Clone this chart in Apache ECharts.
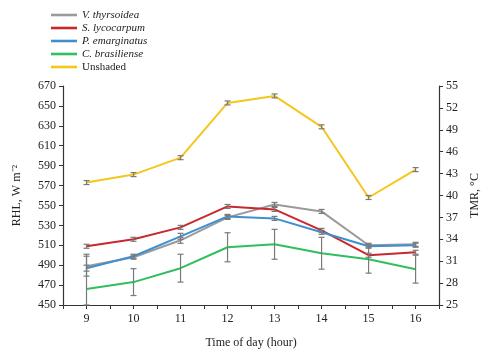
<!DOCTYPE html>
<html><head><meta charset="utf-8">
<script src="https://cdn.jsdelivr.net/npm/echarts@6/dist/echarts.min.js"></script>
<style>html,body{margin:0;padding:0;background:#fff}#c{width:489px;height:354px}</style>
</head><body><div id="c"></div>
<script>
var hours = [9, 10, 11, 12, 13, 14, 15, 16];
var seriesNames = ['V. thyrsoidea', 'S. lycocarpum', 'P. emarginatus', 'C. brasiliense', 'Unshaded'];
var vThyrsoidea = [489, 498, 515, 538, 551, 544, 510, 511];
var vThyrsoideaErr = [10, 2, 3, 2, 2, 2, 2, 2];
var sLycocarpum = [509, 516, 528, 549, 546, 525, 500, 503];
var sLycocarpumErr = [2, 2, 2, 2, 2, 2, 2, 2];
var pEmarginatus = [487, 499, 519, 539, 537, 523, 509, 510];
var pEmarginatusErr = [3, 2, 3, 2, 2, 2, 2, 2];
var cBrasiliense = [466, 473, 487, 508, 511, 502, 496, 486];
var cBrasilienseErr = [35, 13.5, 14, 14.6, 15, 16, 14, 14];
var unshaded = [573, 581, 598, 653, 660, 629, 558, 586];
var unshadedErr = [2, 2, 2, 2, 2, 2, 2, 2];
var leftTicks = {min: 450, max: 670, step: 20};
var rightTicks = {min: 25, max: 55, step: 3};

var colors = ['#9a9a9a', '#c8282e', '#3f8fd0', '#2fbf5e', '#f5c61c'];
var vals = [vThyrsoidea, sLycocarpum, pEmarginatus, cBrasiliense, unshaded];
var errs = [vThyrsoideaErr, sLycocarpumErr, pEmarginatusErr, cBrasilienseErr, unshadedErr];
var font = 'Liberation Serif';

var series = [];
vals.forEach(function (v, i) {
  series.push({
    name: seriesNames[i], type: 'line', symbol: 'none', z: 2,
    lineStyle: {color: colors[i], width: 2}, itemStyle: {color: colors[i]},
    data: hours.map(function (h, k) { return [h, v[k]]; })
  });
});
vals.forEach(function (v, i) {
  series.push({
    name: seriesNames[i] + ' err', type: 'custom', z: 5,
    data: hours.map(function (h, k) { return [h, v[k] - errs[i][k], v[k] + errs[i][k]]; }),
    renderItem: function (params, api) {
      var x = api.value(0);
      var lo = api.coord([x, Math.max(api.value(1), leftTicks.min)]);
      var hi = api.coord([x, api.value(2)]);
      var w = 3;
      var st = {stroke: '#7a7a7a', lineWidth: 1.2};
      return {type: 'group', children: [
        {type: 'line', shape: {x1: lo[0], y1: lo[1], x2: hi[0], y2: hi[1]}, style: st},
        {type: 'line', shape: {x1: lo[0] - w, y1: lo[1], x2: lo[0] + w, y2: lo[1]}, style: st},
        {type: 'line', shape: {x1: hi[0] - w, y1: hi[1], x2: hi[0] + w, y2: hi[1]}, style: st}
      ]};
    }
  });
});

var chart = echarts.init(document.getElementById('c'), null, {renderer: 'canvas'});
chart.setOption({
  animation: false,
  backgroundColor: '#fff',
  textStyle: {fontFamily: font},
  legend: {
    orient: 'vertical', left: 46, top: 4, itemWidth: 26, itemHeight: 8, itemGap: 1,
    icon: 'path://M0,0 L10,0 L10,1 L0,1 Z',
    data: seriesNames.map(function (n, i) {
      return {name: n, textStyle: {fontStyle: i < 4 ? 'italic' : 'normal', fontFamily: font, fontSize: 11, lineHeight: 12, color: '#222'}};
    })
  },
  grid: {left: 63, right: 45, top: 86, bottom: 49},
  xAxis: {
    type: 'value', min: 8.5, max: 16.5, interval: 0.5,
    name: 'Time of day (hour)', nameLocation: 'middle', nameGap: 32,
    nameTextStyle: {fontFamily: font, fontSize: 12, color: '#222'},
    axisLine: {lineStyle: {color: '#333', width: 1.2}},
    axisTick: {lineStyle: {color: '#333'}, length: 4},
    axisLabel: {fontFamily: font, fontSize: 12, color: '#222', margin: 8,
      formatter: function (v) { return Number.isInteger(v) ? String(v) : ''; }},
    splitLine: {show: false}
  },
  yAxis: [{
    type: 'value', min: leftTicks.min, max: leftTicks.max, interval: leftTicks.step,
    name: 'RHL, W m\u207B\u00B2', nameLocation: 'middle', nameGap: 40, nameRotate: 90,
    nameTextStyle: {fontFamily: font, fontSize: 12, color: '#222'},
    axisLine: {show: true, lineStyle: {color: '#333', width: 1.2}},
    axisTick: {show: true, lineStyle: {color: '#333'}, length: 4},
    axisLabel: {fontFamily: font, fontSize: 12, color: '#222', margin: 7},
    splitLine: {show: false}
  }, {
    type: 'value', min: rightTicks.min, max: rightTicks.max, interval: rightTicks.step,
    position: 'right',
    name: 'TMR, \u00B0C', nameLocation: 'middle', nameGap: 27, nameRotate: 90,
    nameTextStyle: {fontFamily: font, fontSize: 12, color: '#222'},
    axisLine: {show: true, lineStyle: {color: '#333', width: 1.2}},
    axisTick: {show: true, lineStyle: {color: '#333'}, length: 4},
    axisLabel: {fontFamily: font, fontSize: 12, color: '#222', margin: 7},
    splitLine: {show: false}
  }],
  series: series
});
</script></body></html>
